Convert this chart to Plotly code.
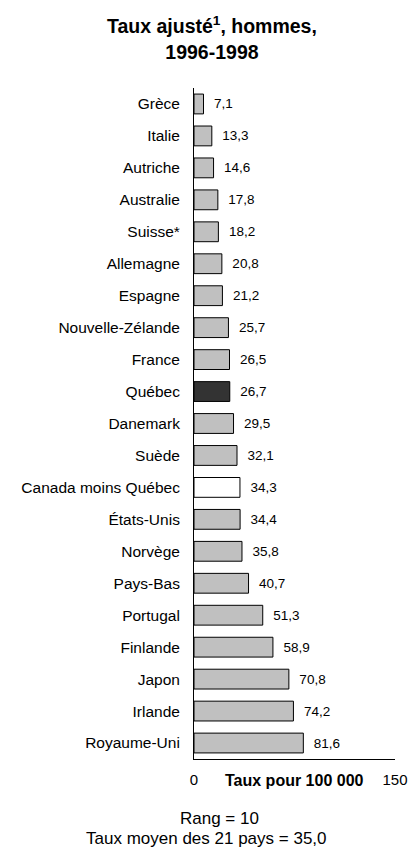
import plotly.graph_objects as go

countries = [
    "Grèce", "Italie", "Autriche", "Australie", "Suisse*", "Allemagne",
    "Espagne", "Nouvelle-Zélande", "France", "Québec", "Danemark", "Suède",
    "Canada moins Québec", "États-Unis", "Norvège", "Pays-Bas", "Portugal",
    "Finlande", "Japon", "Irlande", "Royaume-Uni",
]
rates = [
    7.1, 13.3, 14.6, 17.8, 18.2, 20.8,
    21.2, 25.7, 26.5, 26.7, 29.5, 32.1,
    34.3, 34.4, 35.8, 40.7, 51.3,
    58.9, 70.8, 74.2, 81.6,
]
x_ticks = [0, 150]

GREY = "#c0c0c0"
colors = []
for c in countries:
    if c == "Québec":
        colors.append("#333333")
    elif c == "Canada moins Québec":
        colors.append("#ffffff")
    else:
        colors.append(GREY)

FONT = "Arial, Liberation Sans, sans-serif"
BLACK = "#000000"

W, H = 409, 850
M_L, M_R, M_T, M_B = 194, 14, 88, 91
PLOT_H = H - M_T - M_B


def paper_y(px_from_top):
    """Convert a distance from the top of the page into paper y."""
    return (H - M_B - px_from_top) / PLOT_H


def paper_x(px_from_left):
    return (px_from_left - M_L) / (W - M_L - M_R)


fig = go.Figure(
    go.Bar(
        x=rates,
        y=countries,
        orientation="h",
        marker=dict(color=colors, line=dict(color=BLACK, width=1)),
        width=0.62,
        texttemplate="  %{x:.1f}",
        textposition="outside",
        textfont=dict(family=FONT, size=13.5, color=BLACK),
        cliponaxis=False,
        hoverinfo="skip",
    )
)

fig.update_layout(
    width=W,
    height=H,
    margin=dict(l=M_L, r=M_R, t=M_T, b=M_B, autoexpand=False),
    paper_bgcolor="white",
    plot_bgcolor="white",
    separators=", ",
    showlegend=False,
    font=dict(family=FONT, size=15, color=BLACK),
)

fig.update_xaxes(
    range=[0, 150],
    tickvals=x_ticks,
    ticktext=[str(v) for v in x_ticks],
    ticks="inside",
    ticklen=4,
    tickcolor=BLACK,
    showline=True,
    linecolor=BLACK,
    linewidth=1,
    showgrid=False,
    zeroline=False,
    automargin=False,
    ticklabelstandoff=7,
    tickfont=dict(family=FONT, size=15, color=BLACK),
)

fig.update_yaxes(
    categoryorder="array",
    categoryarray=countries,
    autorange="reversed",
    showline=True,
    linecolor=BLACK,
    linewidth=1,
    showgrid=False,
    ticks="",
    automargin=False,
    ticklabelstandoff=10,
    tickfont=dict(family=FONT, size=15.5, color=BLACK),
)

# Chart title above the plot area
fig.add_annotation(
    text="<b>Taux ajusté<sup>1</sup>, hommes,<br>1996-1998</b>",
    xref="paper", yref="paper",
    x=paper_x(212), y=paper_y(38),
    showarrow=False,
    xanchor="center", yanchor="middle",
    align="center",
    font=dict(family=FONT, size=19.5, color=BLACK),
)

# Axis title sitting between the two tick labels
fig.add_annotation(
    text="<b>Taux pour 100 000</b>",
    xref="paper", yref="paper",
    x=0.5, y=paper_y(780),
    showarrow=False,
    xanchor="center", yanchor="middle",
    font=dict(family=FONT, size=16, color=BLACK),
)

# Footnotes under the chart
fig.add_annotation(
    text="Rang = 10",
    xref="paper", yref="paper",
    x=paper_x(219), y=paper_y(818),
    showarrow=False,
    xanchor="center", yanchor="middle",
    font=dict(family=FONT, size=17, color=BLACK),
)
fig.add_annotation(
    text="Taux moyen des 21 pays = 35,0",
    xref="paper", yref="paper",
    x=paper_x(206), y=paper_y(838),
    showarrow=False,
    xanchor="center", yanchor="middle",
    font=dict(family=FONT, size=17, color=BLACK),
)

fig.write_html("out.html")
